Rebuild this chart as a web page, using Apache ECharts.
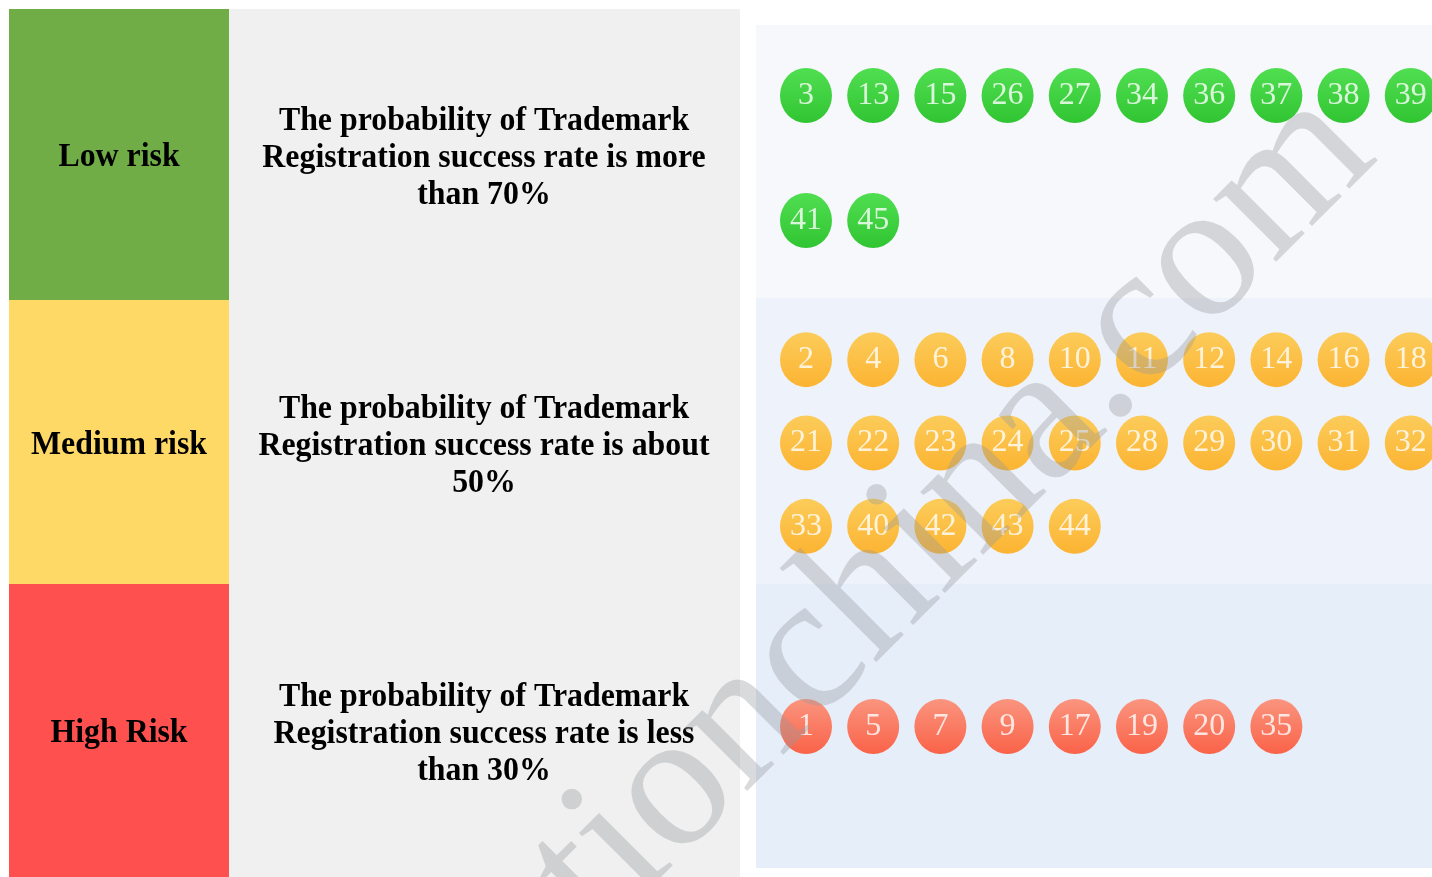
<!DOCTYPE html>
<html lang="en">
<head>
    <meta charset="UTF-8">
    <title>Trademark risk by class</title>
    <script src="https://cdn.jsdelivr.net/npm/echarts@6/dist/echarts.min.js"></script>
    <style>
        * {padding: 0; margin: 0;}
        html, body {background: #fff;}
        #main { width: 1432px; height: 877px; }
    </style>
</head>
<body>
    <div id="main"></div>

    <script>
        // risk levels and what they mean
        const riskLevels = ['Low risk', 'Medium risk', 'High Risk'];
        const riskTexts = [
            'The probability of Trademark\nRegistration success rate is more\nthan 70%',
            'The probability of Trademark\nRegistration success rate is about\n50%',
            'The probability of Trademark\nRegistration success rate is less\nthan 30%'
        ];

        // Nice classes in each group
        const lowRiskClasses = [3, 13, 15, 26, 27, 34, 36, 37, 38, 39, 41, 45];
        const mediumRiskClasses = [2, 4, 6, 8, 10, 11, 12, 14, 16, 18, 21, 22, 23, 24, 25, 28, 29, 30, 31, 32, 33, 40, 42, 43, 44];
        const highRiskClasses = [1, 5, 7, 9, 17, 19, 20, 35];

        const perRow = 10;

        const cellColors = ['#70ad47', '#ffd966', '#ff5050'];
        const bandColors = ['#f6f8fc', '#eef3fb', '#e6eefa'];
        const ballColors = [
            ['#26d826', '#00b800'],
            ['#ffc232', '#ffa400'],
            ['#ff7e60', '#ff401c']
        ];

        const groups = [lowRiskClasses, mediumRiskClasses, highRiskClasses];
        const gridTops = [33, 318, 601.5];

        const chart = echarts.init(document.getElementById('main'));

        let grids = [], xAxes = [], yAxes = [], series = [];
        groups.forEach(function(list, g) {
            let rows = Math.ceil(list.length / perRow);
            let rowNames = [];
            for (let r = 0; r < rows; ++r) rowNames.push('r' + r);
            grids.push({left: 756, right: 0, top: gridTops[g], height: 250});
            // column slot 0 sits 50px inside the panel, 67.2px between slots
            xAxes.push({type: 'value', gridIndex: g, min: -0.744, max: 9.316, show: false});
            yAxes.push({type: 'category', gridIndex: g, data: rowNames, inverse: true, show: false});
            series.push({
                type: 'scatter',
                xAxisIndex: g,
                yAxisIndex: g,
                symbol: 'circle',
                symbolSize: [52, 55],
                silent: true,
                clip: false,
                z: 5,
                itemStyle: {
                    color: new echarts.graphic.LinearGradient(0, 0, 0, 1, [
                        {offset: 0, color: ballColors[g][0]},
                        {offset: 1, color: ballColors[g][1]}
                    ])
                },
                label: {
                    show: true,
                    position: 'inside',
                    color: '#fff',
                    fontFamily: 'Liberation Serif',
                    fontSize: 32,
                    formatter: function(p) { return p.value[2]; }
                },
                data: list.map(function(c, i) {
                    return [i % perRow, rowNames[Math.floor(i / perRow)], c];
                })
            });
        });

        // table on the left and panel backgrounds
        const cellTops = [9, 300, 584, 877];
        const bandTops = [25, 298, 584, 868];
        let elements = [{
            type: 'rect', z: -10,
            shape: {x: 229, y: 9, width: 511, height: 868},
            style: {fill: '#f0f0f0'}
        }];
        riskLevels.forEach(function(name, i) {
            let midY = (cellTops[i] + cellTops[i + 1]) / 2;
            elements.push({
                type: 'rect', z: -10,
                shape: {x: 9, y: cellTops[i], width: 220, height: cellTops[i + 1] - cellTops[i]},
                style: {fill: cellColors[i]}
            });
            elements.push({
                type: 'rect', z: -10,
                shape: {x: 756, y: bandTops[i], width: 676, height: bandTops[i + 1] - bandTops[i]},
                style: {fill: bandColors[i]}
            });
            elements.push({
                type: 'text', z: 1,
                x: 119, y: midY + 3, scaleX: 0.965,
                style: {
                    text: name, x: 0, y: 0,
                    font: 'bold 33px "Liberation Serif"',
                    fill: '#000', textAlign: 'center', textVerticalAlign: 'middle'
                }
            });
            elements.push({
                type: 'text', z: 1,
                x: 484, y: midY + 4, scaleX: 0.965,
                style: {
                    text: riskTexts[i], x: 0, y: 0,
                    font: 'bold 33px "Liberation Serif"', lineHeight: 37,
                    fill: '#000', textAlign: 'center', textVerticalAlign: 'middle'
                }
            });
        });

        // watermark
        elements.push({
            type: 'text', z: 100,
            x: 1344, y: 122, rotation: 45 * Math.PI / 180,
            style: {
                text: 'registrationchina.com', x: 0, y: 0,
                font: '194px "Liberation Serif"',
                fill: 'rgba(150,152,156,0.36)', textAlign: 'right', textVerticalAlign: 'middle'
            }
        });

        chart.setOption({
            animation: false,
            backgroundColor: '#fff',
            graphic: {elements: elements},
            grid: grids,
            xAxis: xAxes,
            yAxis: yAxes,
            series: series
        });
    </script>
</body>
</html>
